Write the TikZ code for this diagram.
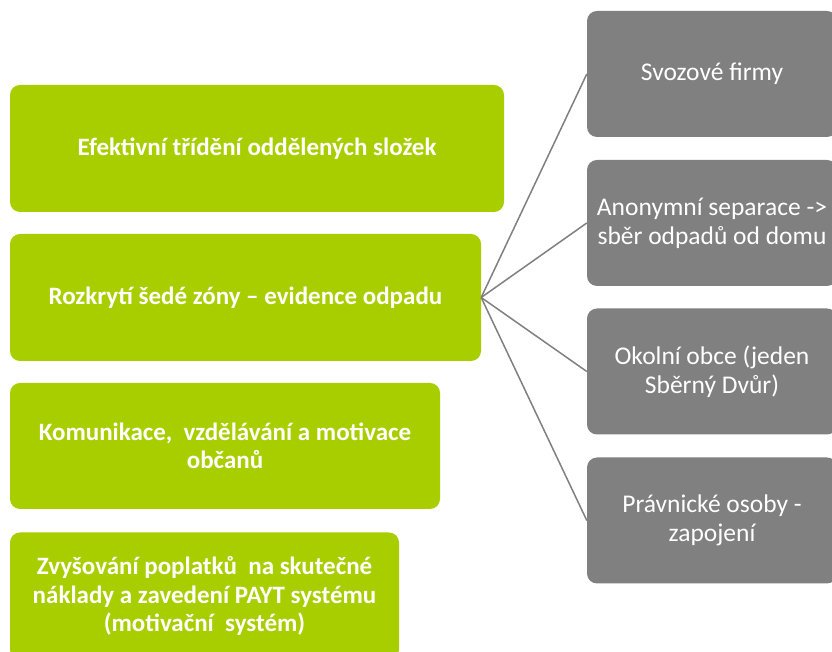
\documentclass[tikz,border=0pt]{standalone}
\usepackage{fontspec}
\setmainfont{Carlito}
\definecolor{lime}{RGB}{168,206,0}
\definecolor{greybox}{RGB}{128,128,128}
\definecolor{linegrey}{RGB}{128,128,128}
\begin{document}
\begin{tikzpicture}[x=1pt,y=1pt,
  greenbox/.style={fill=lime, rounded corners=10pt, text=white, font=\fontsize{25}{28.5}\selectfont\bfseries, align=center, inner sep=0pt},
  graybox/.style={fill=greybox, rounded corners=10pt, text=white, font=\fontsize{25.5}{29}\selectfont, align=center, inner sep=0pt, minimum width=250pt, minimum height=126pt},
  link/.style={draw=linegrey, line width=1.5pt}]
\clip (0,0) rectangle (832,652);
\fill[white] (0,0) rectangle (832,652);
% green boxes
\node[greenbox, minimum width=494pt, minimum height=127pt] (b1) at (257,503.5) {Efektivní třídění oddělených složek};
\node[greenbox, minimum width=471pt, minimum height=127pt] (b2) at (245.5,354.5) {Rozkrytí šedé zóny – evidence odpadu};
\node[greenbox, minimum width=430pt, minimum height=126pt] (b3) at (225,206) {Komunikace,\ \ vzdělávání a motivace\\občanů};
\node[greenbox, minimum width=389pt, minimum height=127pt] (b4) at (204.5,56) {Zvyšování poplatků\ \ na skutečné\\náklady a zavedení PAYT systému\\(motivační\ \ systém)};
% gray boxes
\node[graybox] (g1) at (712,578) {Svozové firmy};
\node[graybox] (g2) at (712,429) {Anonymní separace ->\\sběr odpadů od domu};
\node[graybox] (g3) at (712,280.5) {Okolní obce (jeden\\Sběrný Dvůr)};
\node[graybox] (g4) at (712,131.5) {Právnické osoby -\\zapojení};
% connectors
\draw[link] (b2.east) -- (g1.west);
\draw[link] (b2.east) -- (g2.west);
\draw[link] (b2.east) -- (g3.west);
\draw[link] (b2.east) -- (g4.west);
\end{tikzpicture}
\end{document}
